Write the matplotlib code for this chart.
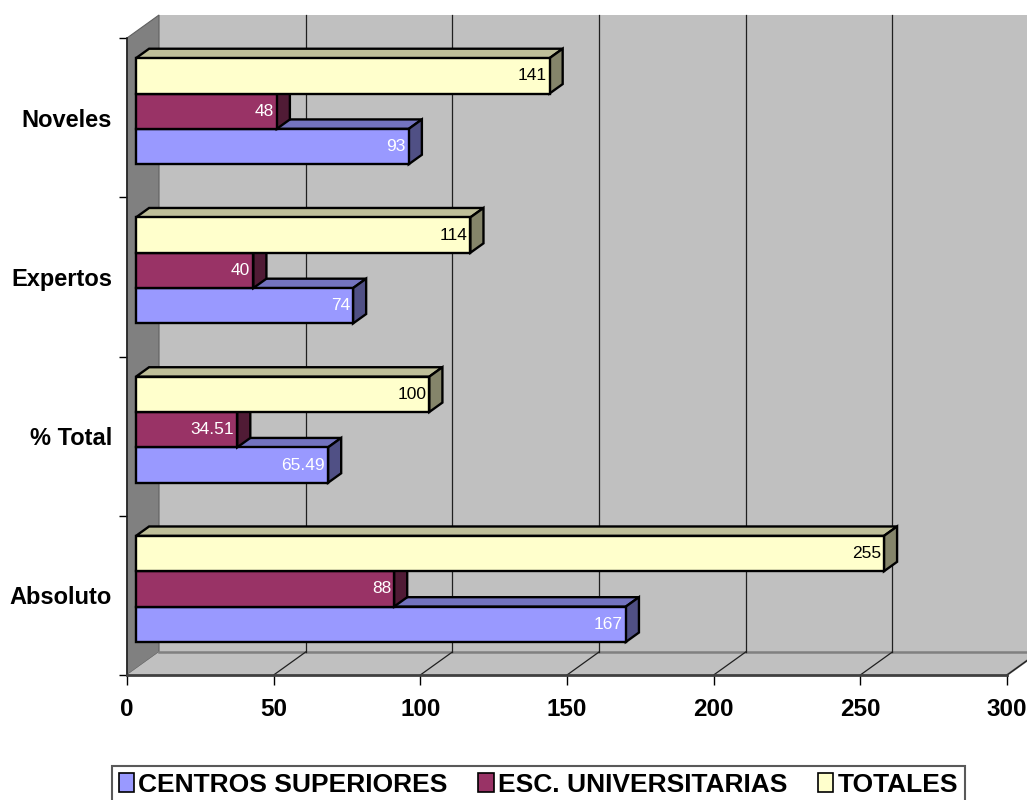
import matplotlib
matplotlib.use("Agg")
import matplotlib.pyplot as plt
from matplotlib.patches import Polygon, Patch
from matplotlib.lines import Line2D
from matplotlib import transforms
import numpy as np

plt.rcParams['font.family'] = ['Liberation Sans', 'DejaVu Sans']

# data (bottom to top)
categories = ['Absoluto', '% Total', 'Expertos', 'Noveles']
series = ['CENTROS SUPERIORES', 'ESC. UNIVERSITARIAS', 'TOTALES']
centros = [167, 65.49, 74, 93]
escuelas = [88, 34.51, 40, 48]
totales = [255, 100, 114, 141]
labels_centros = ['167', '65.49', '74', '93']
labels_escuelas = ['88', '34.51', '40', '48']
labels_totales = ['255', '100', '114', '141']
xticks = [0, 50, 100, 150, 200, 250, 300]

colors = ['#9999FF', '#993366', '#FFFFCC']
label_colors = ['white', 'white', 'black']

# 3d look (pixels)
WALL_DX, WALL_DY = 32, 23
Z_FRONT, Z_BACK = 0.28, 0.69
BAR_H = 0.222


def shade(c, f):
    r, g, b = matplotlib.colors.to_rgb(c)
    return (r * f, g * f, b * f)


fig = plt.figure(figsize=(10.27, 8.0), dpi=100)
ax = fig.add_axes([127 / 1027, 125 / 800, 880 / 1027, 637 / 800])
ax.set_xlim(0, 300)
ax.set_ylim(-0.5, 3.5)
ax.set_autoscale_on(False)
ax.patch.set_visible(False)
ident = transforms.IdentityTransform()


def proj(x, y, z):
    p = ax.transData.transform((x, y))
    return (p[0] + z * WALL_DX, p[1] + z * WALL_DY)


def face(pts, fc, ec='black', lw=1.7, z=3):
    poly = Polygon([proj(*p) for p in pts], closed=True, facecolor=fc,
                   edgecolor=ec, linewidth=lw, transform=ident,
                   clip_on=False, zorder=z, joinstyle='miter')
    ax.add_patch(poly)


x0, x1 = ax.get_xlim()
y0, y1 = ax.get_ylim()

# back wall, side wall, floor
face([(x0, y0, 1), (x1 + 20, y0, 1), (x1 + 20, y1, 1), (x0, y1, 1)], '#C0C0C0', ec='none', lw=0, z=0.5)
face([(x0, y0, 0), (x0, y1, 0), (x0, y1, 1), (x0, y0, 1)], '#808080', ec='#606060', lw=0.8, z=0.6)
face([(x0, y0, 0), (x1, y0, 0), (x1, y0, 1), (x0, y0, 1)], '#C0C0C0', ec='none', lw=0, z=0.6)
back_edge = [proj(x0, y0, 1), proj(x1 + 20, y0, 1)]
ax.add_line(Line2D([p[0] for p in back_edge], [p[1] for p in back_edge], transform=ident,
                   color='#808080', lw=1.8, clip_on=False, zorder=0.7))
right_edge = [proj(x1, y0, 0), proj(x1, y0, 1)]
ax.add_line(Line2D([p[0] for p in right_edge], [p[1] for p in right_edge], transform=ident,
                   color='#808080', lw=1.5, clip_on=False, zorder=0.7))

# gridlines on wall and floor
for xt in xticks[1:]:
    a, b = proj(xt, y0, 1), proj(xt, y1, 1)
    ax.add_line(Line2D([a[0], b[0]], [a[1], b[1]], transform=ident, color='#202020',
                       lw=0.9, clip_on=False, zorder=0.8))
    c = proj(xt, y0, 0)
    ax.add_line(Line2D([c[0], a[0]], [c[1], a[1]], transform=ident, color='#202020',
                       lw=0.9, clip_on=False, zorder=0.8))

# bars
values = [centros, escuelas, totales]
texts = [labels_centros, labels_escuelas, labels_totales]
lab_trans = transforms.offset_copy(ax.transData, fig=fig, x=Z_FRONT * WALL_DX - 3,
                                   y=Z_FRONT * WALL_DY, units='dots')
for i in range(len(categories)):
    for j in range(len(series)):
        v = values[j][i]
        yc = i + (j - 1) * BAR_H
        yb, yt = yc - BAR_H / 2, yc + BAR_H / 2
        c = colors[j]
        face([(0, yt, Z_FRONT), (v, yt, Z_FRONT), (v, yt, Z_BACK), (0, yt, Z_BACK)], shade(c, 0.75))
        face([(v, yb, Z_FRONT), (v, yt, Z_FRONT), (v, yt, Z_BACK), (v, yb, Z_BACK)], shade(c, 0.52))
        face([(0, yb, Z_FRONT), (v, yb, Z_FRONT), (v, yt, Z_FRONT), (0, yt, Z_FRONT)], c)
        ax.text(v, yc, texts[j][i], transform=lab_trans, ha='right', va='center',
                fontsize=12.5, color=label_colors[j], zorder=5)

# axes
for s in ['top', 'right']:
    ax.spines[s].set_visible(False)
ax.spines['left'].set_color('#202020')
ax.spines['left'].set_linewidth(1.2)
ax.spines['bottom'].set_color('#404040')
ax.spines['bottom'].set_linewidth(2)

ax.set_xticks(xticks)
ax.set_xticklabels([str(t) for t in xticks], fontsize=17.5, fontweight='bold')
ax.tick_params(axis='x', length=7.2, width=1, color='black', pad=9)

ax.set_yticks(np.arange(-0.5, len(categories), 1.0))
ax.set_yticklabels([])
ax.set_yticks(range(len(categories)), minor=True)
ax.set_yticklabels(categories, minor=True, fontsize=17, fontweight='bold')
ax.tick_params(axis='y', which='major', length=5.8, width=1, color='black')
ax.tick_params(axis='y', which='minor', length=0, pad=10.8)

# legend
handles = [Patch(facecolor=c, edgecolor='black', linewidth=1.2) for c in colors]
leg = fig.legend(handles, series, loc='upper left', bbox_to_anchor=(112 / 1027, 1 - 766 / 800),
                 ncol=3, frameon=True, fancybox=False, borderaxespad=0,
                 prop={'weight': 'bold', 'size': 19}, handlelength=0.6, handleheight=0.7,
                 handletextpad=0.15, columnspacing=1.15, borderpad=0.25)
leg.get_frame().set_edgecolor('#303030')
leg.get_frame().set_linewidth(1.5)

fig.savefig('out.png', dpi=100)
